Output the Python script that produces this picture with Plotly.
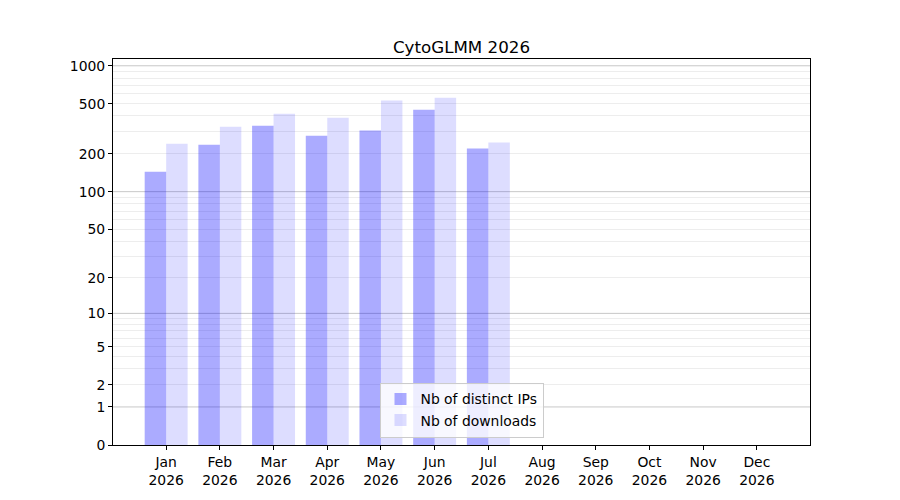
import numpy as np
import plotly.graph_objects as go

title = "CytoGLMM 2026"
months = ["Jan", "Feb", "Mar", "Apr", "May", "Jun", "Jul", "Aug", "Sep", "Oct", "Nov", "Dec"]
year = "2026"
distinct_ips = [144, 236, 335, 279, 307, 449, 221]
downloads = [241, 329, 417, 388, 530, 559, 246]
ytick_values = [0, 1, 2, 5, 10, 20, 50, 100, 200, 500, 1000]
major_grid = [1, 10, 100, 1000]
minor_grid = [2, 3, 4, 5, 6, 7, 8, 9, 20, 30, 40, 50, 60, 70, 80, 90,
              200, 300, 400, 500, 600, 700, 800, 900]


def f(v):
    # y scale of the reference: log10(v + 1)
    return np.log10(np.asarray(v, dtype=float) + 1.0)


FONT = "DejaVu Sans"
xs = list(range(len(distinct_ips)))

# page offset of the plotly div (body margin) compensated in margins
L, T, PW, PH = 105, 51, 697, 386

fig = go.Figure()
fig.add_trace(go.Bar(x=xs, y=f(distinct_ips), name="Nb of distinct IPs",
                     marker=dict(color="rgba(0,0,255,0.33)", line=dict(width=0)),
                     customdata=distinct_ips, hovertemplate="%{customdata}"))
fig.add_trace(go.Bar(x=xs, y=f(downloads), name="Nb of downloads",
                     marker=dict(color="rgba(0,0,255,0.135)", line=dict(width=0)),
                     customdata=downloads, hovertemplate="%{customdata}"))

for g in major_grid:
    fig.add_shape(type="line", xref="paper", x0=0, x1=1, yref="y", y0=float(f(g)), y1=float(f(g)),
                  line=dict(color="rgba(0,0,0,0.22)", width=1), layer="below")

fig.update_layout(
    width=900, height=500,
    paper_bgcolor="white", plot_bgcolor="white",
    margin=dict(l=L, r=900 - L - PW, t=T, b=500 - T - PH),
    barmode="group", bargap=0.2, bargroupgap=0,
    font=dict(family=FONT, size=13.9, color="black"),
    title=dict(text=title, x=(L + PW / 2) / 900, xanchor="center",
               y=1 - 45 / 500, yanchor="bottom", yref="container",
               font=dict(family=FONT, size=16.7, color="black")),
    legend=dict(x=0.5, xanchor="center", y=7.5 / PH, yanchor="bottom",
                bgcolor="rgba(255,255,255,0.8)", bordercolor="#cccccc", borderwidth=1,
                font=dict(family=FONT, size=13.9), tracegroupgap=0),
    showlegend=True,
)
fig.update_xaxes(
    range=[-0.99, 11.99], tickmode="array", tickvals=list(range(12)),
    ticktext=[f"{m}<br>{year}" for m in months],
    showgrid=False, zeroline=False, showline=True, linecolor="black", linewidth=1,
    mirror=True, ticks="outside", ticklen=4, tickwidth=1, tickcolor="black",
)
fig.update_yaxes(
    range=[0, 3.054], tickmode="array", tickvals=[float(v) for v in f(ytick_values)],
    ticktext=[str(v) for v in ytick_values],
    showgrid=False, zeroline=False, showline=True, linecolor="black", linewidth=1,
    mirror=True, ticks="outside", ticklen=4, tickwidth=1, tickcolor="black",
    minor=dict(tickmode="array", tickvals=[float(v) for v in f(minor_grid)], showgrid=True,
               gridcolor="rgba(0,0,0,0.07)", gridwidth=1, ticks=""),
)

fig.write_html("out.html")
